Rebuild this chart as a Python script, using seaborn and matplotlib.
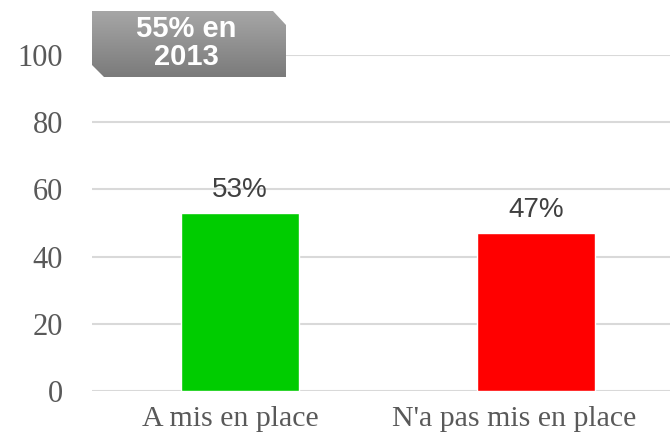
import numpy as np
import matplotlib
matplotlib.use("Agg")
import matplotlib.pyplot as plt
import matplotlib.transforms as mtransforms
from matplotlib.patches import Polygon
import seaborn as sns

# data
categories = ["A mis en place", "N'a pas mis en place"]
values = [53, 47]
value_labels = ["53%", "47%"]
bar_colors = ["#00CC00", "#FF0000"]
y_ticks = [0, 20, 40, 60, 80, 100]
note_text = "55% en\n2013"

sns.set_style("white")

W, H = 670, 441
fig = plt.figure(figsize=(W / 100, H / 100), dpi=100)

# axes placed in pixel coords (axis extends a bit past the right edge like the original)
left, right = 92, 684
top, bottom = 55, 391
ax = fig.add_axes([left / W, 1 - bottom / H, (right - left) / W, (bottom - top) / H])

sns.barplot(x=categories, y=values, hue=categories, palette=bar_colors,
            width=0.4, legend=False, ax=ax, saturation=1)

ax.set_xlim(-0.5, 1.5)
ax.set_ylim(0, 100)
ax.set_yticks(y_ticks)
ax.set_xlabel("")
ax.set_ylabel("")
ax.yaxis.grid(True, color="#d9d9d9", linewidth=1.5)
ax.set_axisbelow(True)
for s in ax.spines.values():
    s.set_visible(False)

ax.tick_params(axis="y", length=0, pad=21, labelsize=22, labelcolor="#595959")
ax.tick_params(axis="x", length=0, pad=11, labelsize=21.5, labelcolor="#595959")
for lab in ax.get_yticklabels() + ax.get_xticklabels():
    lab.set_fontfamily("Liberation Serif")
# category labels sit left of the bar centres in the original (the long one kept inside the frame)
for lab, dx in zip(ax.get_xticklabels(), [-10, -22]):
    lab.set_transform(lab.get_transform() +
                      mtransforms.ScaledTranslation(dx / 100, 0, fig.dpi_scale_trans))

# value labels above bars
for i, (v, t) in enumerate(zip(values, value_labels)):
    ax.annotate(t, (i, v), xytext=(0, 11.5), textcoords="offset points",
                ha="center", va="baseline", fontsize=20, color="#404040",
                family="Liberation Sans")

# grey "55% en 2013" tag with cut corners and a vertical gradient
bx0, bx1, by0, by1 = 92, 286, 11, 77
bax = fig.add_axes([bx0 / W, 1 - by1 / H, (bx1 - bx0) / W, (by1 - by0) / H])
bw, bh = bx1 - bx0, by1 - by0
bax.set_xlim(0, bw)
bax.set_ylim(0, bh)
bax.axis("off")
grad = np.linspace(0, 1, 100).reshape(-1, 1)
img = bax.imshow(grad, extent=[0, bw, 0, bh], aspect="auto", origin="lower",
                 cmap=matplotlib.colors.LinearSegmentedColormap.from_list("g", ["#7b7b7b", "#a6a6a6"]))
shape = Polygon([(12, 0), (bw, 0), (bw, bh - 14), (bw - 13, bh), (0, bh), (0, 12)],
                closed=True, facecolor="none", edgecolor="none")
bax.add_patch(shape)
img.set_clip_path(shape)
bax.text(bw / 2 - 3, bh / 2 + 1, note_text, ha="center", va="center", color="white",
         fontsize=21, fontweight="bold", linespacing=1.0, family="Liberation Sans")

fig.savefig("out.png", dpi=100)
